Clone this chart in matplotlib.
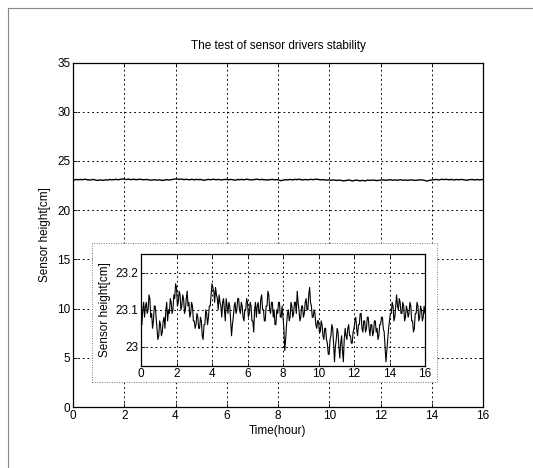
import matplotlib
matplotlib.use("Agg")
import matplotlib.pyplot as plt
from matplotlib.patches import Rectangle
from matplotlib import font_manager

time_start = 0.0
time_step = 0.05
height_cm = [
    23.09, 23.06, 23.10, 23.12, 23.08, 23.11, 23.12, 23.09, 23.10, 23.14,
    23.13, 23.08, 23.09, 23.05, 23.07, 23.11, 23.11, 23.08, 23.05, 23.02,
    23.03, 23.07, 23.06, 23.03, 23.04, 23.07, 23.08, 23.05, 23.10, 23.12,
    23.07, 23.10, 23.09, 23.13, 23.12, 23.09, 23.10, 23.14, 23.13, 23.17,
    23.16, 23.11, 23.12, 23.15, 23.14, 23.10, 23.11, 23.14, 23.13, 23.09,
    23.10, 23.13, 23.15, 23.11, 23.12, 23.08, 23.09, 23.12, 23.11, 23.07,
    23.07, 23.05, 23.06, 23.09, 23.08, 23.05, 23.05, 23.08, 23.07, 23.03,
    23.02, 23.06, 23.06, 23.10, 23.09, 23.06, 23.08, 23.11, 23.11, 23.14,
    23.17, 23.16, 23.15, 23.12, 23.16, 23.14, 23.13, 23.10, 23.14, 23.12,
    23.11, 23.08, 23.12, 23.13, 23.10, 23.07, 23.13, 23.11, 23.09, 23.12,
    23.11, 23.07, 23.03, 23.06, 23.08, 23.11, 23.12, 23.09, 23.10, 23.13,
    23.13, 23.10, 23.09, 23.12, 23.11, 23.08, 23.07, 23.10, 23.10, 23.13,
    23.12, 23.08, 23.09, 23.12, 23.11, 23.07, 23.07, 23.04, 23.10, 23.12,
    23.08, 23.11, 23.12, 23.09, 23.09, 23.13, 23.14, 23.10, 23.10, 23.07,
    23.07, 23.11, 23.11, 23.15, 23.14, 23.10, 23.09, 23.12, 23.12, 23.08,
    23.10, 23.06, 23.06, 23.10, 23.09, 23.12, 23.12, 23.08, 23.08, 23.11,
    23.08, 23.05, 22.99, 23.02, 23.06, 23.09, 23.10, 23.07, 23.08, 23.12,
    23.11, 23.08, 23.09, 23.12, 23.12, 23.09, 23.15, 23.12, 23.10, 23.07,
    23.08, 23.11, 23.11, 23.08, 23.09, 23.12, 23.13, 23.10, 23.10, 23.14,
    23.16, 23.12, 23.11, 23.08, 23.08, 23.10, 23.09, 23.06, 23.05, 23.07,
    23.07, 23.04, 23.04, 23.07, 23.06, 23.03, 23.02, 23.05, 23.05, 23.02,
    23.01, 22.98, 22.98, 23.02, 23.03, 23.06, 23.05, 23.01, 22.96, 23.00,
    23.02, 23.05, 23.04, 23.00, 22.97, 23.01, 23.03, 22.99, 22.96, 23.02,
    23.05, 23.03, 23.02, 23.05, 23.06, 23.03, 23.03, 23.01, 23.01, 23.04,
    23.05, 23.07, 23.08, 23.05, 23.03, 23.06, 23.06, 23.09, 23.09, 23.05,
    23.04, 23.07, 23.07, 23.04, 23.05, 23.08, 23.08, 23.05, 23.03, 23.06,
    23.06, 23.03, 23.04, 23.07, 23.07, 23.04, 23.05, 23.02, 23.03, 23.06,
    23.06, 23.08, 23.08, 23.05, 23.04, 23.00, 22.96, 22.99, 23.02, 23.05,
    23.07, 23.09, 23.09, 23.12, 23.11, 23.07, 23.08, 23.11, 23.14, 23.11,
    23.10, 23.13, 23.12, 23.09, 23.09, 23.12, 23.11, 23.07, 23.08, 23.11,
    23.10, 23.08, 23.09, 23.12, 23.11, 23.07, 23.07, 23.04, 23.05, 23.09,
    23.09, 23.12, 23.11, 23.07, 23.08, 23.11, 23.10, 23.07, 23.08, 23.11,
    23.09,
]
time_hours = [time_start + i * time_step for i in range(len(height_cm))]

main_xticks = [0, 2, 4, 6, 8, 10, 12, 14, 16]
main_yticks = [0, 5, 10, 15, 20, 25, 30, 35]
inset_xticks = [0, 2, 4, 6, 8, 10, 12, 14, 16]
inset_yticks = [23.0, 23.1, 23.2]
inset_yticklabels = ["23", "23.1", "23.2"]

title_text = "The test of sensor drivers stability"
xlabel_text = "Time(hour)"
ylabel_text = "Sensor height[cm]"

# ---- fonts ----
avail = {f.name for f in font_manager.fontManager.ttflist}
fam = [f for f in ["Liberation Sans Narrow", "Liberation Sans", "DejaVu Sans"] if f in avail]
plt.rcParams["font.family"] = fam
FS = 8.5

W, H = 533, 468
fig = plt.figure(figsize=(W / 100, H / 100), dpi=100)

def fx(px):
    return px / W

def fy(py):
    return 1 - py / H

grid_kw = dict(color="black", linestyle=(0, (1.8, 3.0)), linewidth=0.7)

# ---- main axes ----
ax = fig.add_axes([fx(73), fy(407), fx(483) - fx(73), fy(62.5) - fy(407)])
ax.plot(time_hours, height_cm, color="black", linewidth=1.0)
ax.set_xlim(0, 16)
ax.set_ylim(0, 35)
ax.set_xticks(main_xticks)
ax.set_yticks(main_yticks)
ax.set_xticklabels([str(v) for v in main_xticks], fontsize=FS)
ax.set_yticklabels([str(v) for v in main_yticks], fontsize=FS)
ax.tick_params(direction="in", length=3, width=0.6, top=True, right=True, pad=2)
ax.grid(True, **grid_kw)
for s in ax.spines.values():
    s.set_linewidth(0.9)
ax.set_title(title_text, fontsize=FS, pad=10)
ax.set_xlabel(xlabel_text, fontsize=FS, labelpad=2)
ax.set_ylabel(ylabel_text, fontsize=FS, labelpad=4)

# ---- white dotted box behind the inset ----
box = Rectangle((fx(92), fy(382)), fx(437) - fx(92), fy(243) - fy(382),
                transform=fig.transFigure, facecolor="white", edgecolor="#777777",
                linestyle=(0, (1, 1.5)), linewidth=0.7, zorder=5)
fig.add_artist(box)

# ---- inset axes ----
ins = fig.add_axes([fx(141), fy(365.5), fx(425) - fx(141), fy(254) - fy(365.5)])
ins.set_zorder(10)
ins.plot(time_hours, height_cm, color="black", linewidth=0.8)
ins.set_xlim(0, 16)
ins.set_ylim(22.95, 23.25)
ins.set_xticks(inset_xticks)
ins.set_yticks(inset_yticks)
ins.set_xticklabels([str(v) for v in inset_xticks], fontsize=FS)
ins.set_yticklabels(inset_yticklabels, fontsize=FS)
ins.tick_params(direction="in", length=3, width=0.6, top=True, right=True, pad=2)
ins.grid(True, **grid_kw)
for s in ins.spines.values():
    s.set_linewidth(0.9)
ins.set_ylabel(ylabel_text, fontsize=FS, labelpad=3)

# ---- scan border lines ----
fig.add_artist(plt.Line2D([fx(8), 1], [fy(8), fy(8)], transform=fig.transFigure,
                          color="#888888", linewidth=0.8))
fig.add_artist(plt.Line2D([fx(8), fx(8)], [fy(8), 0], transform=fig.transFigure,
                          color="#888888", linewidth=0.8))

fig.savefig("out.png", dpi=100, facecolor="white")
